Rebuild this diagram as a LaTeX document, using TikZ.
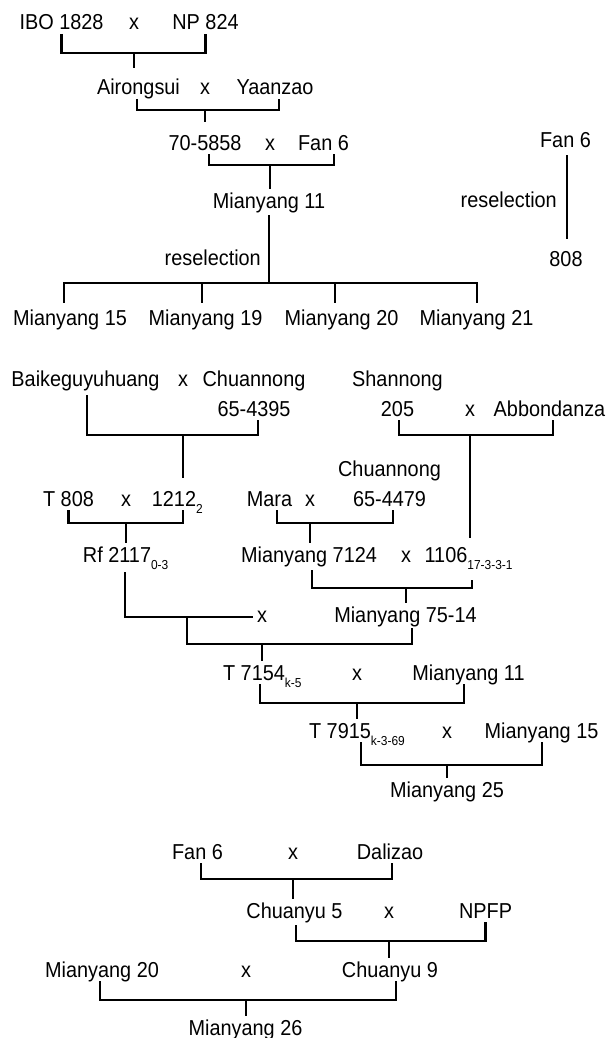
\documentclass[tikz,border=0pt]{standalone}
\usepackage{fontspec}
\setmainfont{Liberation Sans}[FakeStretch=0.92]
\newcommand{\lowidx}[1]{\rlap{\raisebox{-7pt}{\fontsize{13}{13}\selectfont #1}}}
\newcommand{\twoline}[2]{\begin{tabular}[b]{@{}c@{}}#1\\#2\end{tabular}}

\begin{document}
\begin{tikzpicture}[x=1pt, y=-1pt]
    \tikzstyle{cv}=[inner sep=0pt, outer ysep=4pt, text height=15.5pt, text depth=0pt, anchor=base, font=\fontsize{21.6}{30}\selectfont]
    \tikzstyle{link}=[line width=2.2pt]

    \useasboundingbox (0,0) rectangle (608,1038);

    \node[cv] (ibo) at (61.5,30) {IBO 1828};
    \node[cv] (x1) at (134,30) {x};
    \node[cv] (np) at (205.5,30) {NP 824};
    \node[cv] (airong) at (138.5,95) {Airongsui};
    \node[cv] (x2) at (205,95) {x};
    \node[cv] (yaan) at (275,95) {Yaanzao};
    \node[cv] (sel) at (205,150) {70-5858};
    \node[cv] (x3) at (270,150) {x};
    \node[cv] (fanA) at (323.5,150) {Fan 6};
    \node[cv] (my11) at (269,208) {Mianyang 11};
    \node[cv, anchor=base east] (resA) at (261,265) {reselection};
    \node[cv] (my15) at (70,325) {Mianyang 15};
    \node[cv] (my19) at (205.5,325) {Mianyang 19};
    \node[cv] (my20) at (341.5,325) {Mianyang 20};
    \node[cv] (my21) at (476.5,325) {Mianyang 21};
    \node[cv] (fanB) at (565.5,147) {Fan 6};
    \node[cv, anchor=base east] (resB) at (557,207) {reselection};
    \node[cv] (n808) at (566,266) {808};

    \coordinate (b1) at (0,53);
    \coordinate (b2) at (0,110);
    \coordinate (b3) at (0,165);
    \coordinate (b4) at (0,283);
    \draw[link] (ibo.south) |- (np.south |- b1) -- (np.south);
    \draw[link, shorten >=7pt] (x1 |- b1) -- (x1 |- airong.north);
    \draw[link] ([xshift=-1.5pt]airong.south) |- ([xshift=4pt]yaan.south |- b2) -- ([xshift=4pt]yaan.south);
    \draw[link, shorten >=8pt] (x2 |- b2) -- (x2 |- sel.north);
    \draw[link] ([xshift=4pt]sel.south) |- ([xshift=10.5pt]fanA.south |- b3) -- ([xshift=10.5pt]fanA.south);
    \draw[link] (x3 |- b3) -- (x3 |- my11.north);
    \draw[link, shorten <=3pt] (my11.south) -- (my11.south |- b4);
    \draw[link, shorten <=3pt, shorten >=3pt] ([xshift=-6pt]my15.north) |- ([xshift=0.5pt]my21.north |- b4) -- ([xshift=0.5pt]my21.north);
    \draw[link, shorten >=3pt] ([xshift=-3.5pt]my19.north |- b4) -- ([xshift=-3.5pt]my19.north);
    \draw[link, shorten >=3pt] ([xshift=-6.5pt]my20.north |- b4) -- ([xshift=-6.5pt]my20.north);
    \draw[link, shorten <=4pt, shorten >=8pt] ([xshift=1.5pt]fanB.south) -- ([xshift=1.5pt]fanB.south |- n808.north);

    \node[cv] (baike) at (85.5,386) {Baikeguyuhuang};
    \node[cv] (x4) at (183,386) {x};
    \node[cv] (chnA) at (254,416) {\twoline{Chuannong}{65-4395}};
    \node[cv] (shan) at (397.5,416) {\twoline{Shannong}{205}};
    \node[cv] (x5) at (470,416) {x};
    \node[cv] (abb) at (549.5,416) {Abbondanza};
    \node[cv] (t808) at (68.5,506) {T 808};
    \node[cv] (x6) at (126,506) {x};
    \node[cv] (n1212) at (174,506) {1212\lowidx{2}};
    \node[cv] (mara) at (269.5,506) {Mara};
    \node[cv] (x7) at (310,506) {x};
    \node[cv] (chnB) at (389.5,506) {\twoline{Chuannong}{65-4479}};
    \node[cv] (rf) at (117,562) {Rf 2117\lowidx{0-3}};
    \node[cv] (my7124) at (309,562) {Mianyang 7124};
    \node[cv] (x8) at (406,562) {x};
    \node[cv] (n1106) at (446,562) {1106\lowidx{17-3-3-1}};
    \node[cv] (x9) at (262,622) {x};
    \node[cv] (my7514) at (405.5,622) {Mianyang 75-14};
    \node[cv] (t7154) at (254,680) {T 7154\lowidx{k-5}};
    \node[cv] (x10) at (357,680) {x};
    \node[cv] (my11b) at (468.5,680) {Mianyang 11};
    \node[cv] (t7915) at (340,738) {T 7915\lowidx{k-3-69}};
    \node[cv] (x11) at (447,738) {x};
    \node[cv] (my15b) at (541.5,738) {Mianyang 15};
    \node[cv] (my25) at (447,797) {Mianyang 25};

    \coordinate (b5) at (0,435);
    \coordinate (b7) at (0,523);
    \coordinate (b8) at (0,588);
    \coordinate (rfjoin) at (187,617);
    \coordinate (b10) at (0,644);
    \coordinate (b11) at (0,703);
    \coordinate (b12) at (0,765);
    \draw[link, shorten <=5pt] ([xshift=1.5pt]baike.south) |- ([xshift=4pt]chnA.south |- b5) -- ([xshift=4pt]chnA.south);
    \draw[link, shorten >=9pt] (x4 |- b5) -- (x4 |- n1212.north);
    \draw[link] ([xshift=1.5pt]shan.south) |- ([xshift=3.5pt]abb.south |- b5) -- ([xshift=3.5pt]abb.south);
    \draw[link, shorten >=5pt] (x5 |- b5) -- (x5 |- n1106.north);
    \draw[link] (t808.south) |- ([xshift=9pt]n1212.south |- b7) -- ([xshift=9pt]n1212.south);
    \draw[link] (x6 |- b7) -- (x6 |- rf.north);
    \draw[link] ([xshift=7.5pt]mara.south) |- ([xshift=3.5pt]chnB.south |- b7) -- ([xshift=3.5pt]chnB.south);
    \draw[link] (x7 |- b7) -- (x7 |- my7124.north);
    \draw[link, shorten <=4pt, shorten >=14pt] ([xshift=3pt]my7124.south) |- ([xshift=26pt]n1106.south |- b8) -- ([xshift=26pt]n1106.south);
    \draw[link] (x8 |- b8) -- (x8 |- my7514.north);
    \draw[link, shorten <=6pt] ([xshift=8pt]rf.south) |- ([xshift=-4pt, yshift=5pt]x9.base west);
    \draw[link, shorten >=2pt] (rfjoin) |- ([xshift=6.5pt]my7514.south |- b10) -- ([xshift=6.5pt]my7514.south);
    \draw[link] (x9 |- b10) -- (x9 |- t7154.north);
    \draw[link] ([xshift=6pt]t7154.south) |- ([xshift=-4.5pt]my11b.south |- b11) -- ([xshift=-4.5pt]my11b.south);
    \draw[link] (x10 |- b11) -- (x10 |- t7915.north);
    \draw[link] ([xshift=21pt]t7915.south) |- ([xshift=0.5pt]my15b.south |- b12) -- ([xshift=0.5pt]my15b.south);
    \draw[link] (x11 |- b12) -- (x11 |- my25.north);

    \node[cv] (fanC) at (197.5,859) {Fan 6};
    \node[cv] (x12) at (293,859) {x};
    \node[cv] (dali) at (390,859) {Dalizao};
    \node[cv] (cy5) at (294.5,918) {Chuanyu 5};
    \node[cv] (x13) at (389,918) {x};
    \node[cv] (npfp) at (485.5,918) {NPFP};
    \node[cv] (my20b) at (102,977) {Mianyang 20};
    \node[cv] (x14) at (246,977) {x};
    \node[cv] (cy9) at (390,977) {Chuanyu 9};
    \node[cv] (my26) at (245.5,1035) {Mianyang 26};

    \coordinate (b13) at (0,879);
    \coordinate (b14) at (0,941);
    \coordinate (b15) at (0,1000);
    \draw[link] ([xshift=3.5pt]fanC.south) |- ([xshift=2pt]dali.south |- b13) -- ([xshift=2pt]dali.south);
    \draw[link] (x12 |- b13) -- (x12 |- cy5.north);
    \draw[link, shorten <=3pt] ([xshift=1.5pt]cy5.south) |- (npfp.south |- b14) -- (npfp.south);
    \draw[link] (x13 |- b14) -- (x13 |- cy9.north);
    \draw[link] ([xshift=-2pt]my20b.south) |- ([xshift=6pt]cy9.south |- b15) -- ([xshift=6pt]cy9.south);
    \draw[link] (x14 |- b15) -- (x14 |- my26.north);
\end{tikzpicture}
\end{document}
